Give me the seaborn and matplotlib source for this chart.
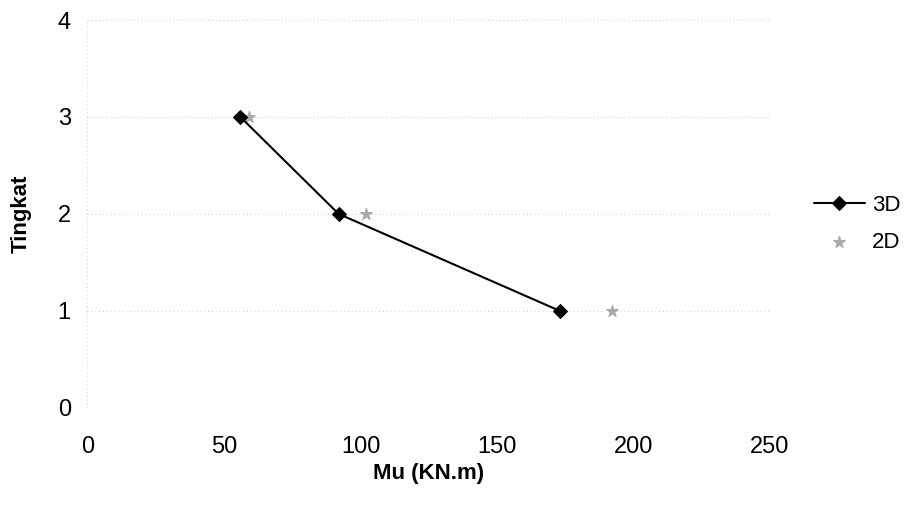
import matplotlib
matplotlib.use("Agg")
import matplotlib.pyplot as plt
import seaborn as sns
import pandas as pd

# data
tingkat = [3, 2, 1]
mu_3d = [56, 92, 173]
mu_2d = [59, 102, 192]
x_ticks = [0, 50, 100, 150, 200, 250]
y_ticks = [0, 1, 2, 3, 4]

sns.set_theme(style="white")
plt.rcParams['font.family'] = ['Liberation Sans', 'DejaVu Sans']
plt.rcParams['text.color'] = 'black'
plt.rcParams['axes.labelcolor'] = 'black'
plt.rcParams['xtick.color'] = 'black'
plt.rcParams['ytick.color'] = 'black'

df3 = pd.DataFrame({"Mu": mu_3d, "Tingkat": tingkat})
df2 = pd.DataFrame({"Mu": mu_2d, "Tingkat": tingkat})

fig = plt.figure(figsize=(9.21, 5.13), dpi=100)
ax = fig.add_axes([0.095, 0.205, 0.741, 0.756])

sns.lineplot(data=df3, x="Mu", y="Tingkat", ax=ax, color="black", lw=1.5,
             marker="D", markersize=7, markeredgecolor="black",
             sort=False, label="3D")
sns.scatterplot(data=df2, x="Mu", y="Tingkat", ax=ax, color="#a8a8a8",
                marker="*", s=80, edgecolor="#a8a8a8", label="2D")

ax.set_xlim(0, 250)
ax.set_ylim(0, 4)
ax.set_xticks(x_ticks)
ax.set_yticks(y_ticks)
for s in ax.spines.values():
    s.set_visible(False)
ax.grid(axis="y", color="#cfcfcf", ls=(0, (1, 3)), lw=0.7)
ax.axvline(0, color="#cfcfcf", ls=(0, (1, 3)), lw=0.7)
ax.tick_params(axis="both", length=0, labelsize=17)
ax.tick_params(axis="x", pad=20)
ax.tick_params(axis="y", pad=12)
ax.set_xlabel("Mu (KN.m)", fontsize=16, fontweight="bold", labelpad=4)
ax.set_ylabel("Tingkat", fontsize=16, fontweight="bold", labelpad=19)

ax.legend(loc="center left", bbox_to_anchor=(1.035, 0.474), frameon=False,
          fontsize=16, handlelength=2.3, handletextpad=0.3, labelspacing=0.7)

fig.savefig("out.png", dpi=100)
